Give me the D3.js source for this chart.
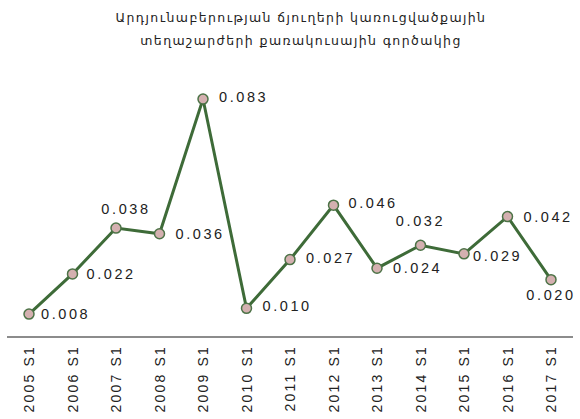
<!DOCTYPE html>
<html><head><meta charset="utf-8">
<script src="https://cdn.jsdelivr.net/npm/d3@7"></script>
<style>body{margin:0;background:#fff}svg{display:block}</style>
</head><body>
<script>
const titleLines = ["Արդյունաբերության ճյուղերի կառուցվածքային", "տեղաշարժերի քառակուսային գործակից"];
const categories = ["2005 S1","2006 S1","2007 S1","2008 S1","2009 S1","2010 S1","2011 S1","2012 S1","2013 S1","2014 S1","2015 S1","2016 S1","2017 S1"];
const values = [0.008,0.022,0.038,0.036,0.083,0.010,0.027,0.046,0.024,0.032,0.029,0.042,0.020];
const labels = ["0.008","0.022","0.038","0.036","0.083","0.010","0.027","0.046","0.024","0.032","0.029","0.042","0.020"];
// label placement: dx, dy relative to point, anchor
const labelPos = [[12,5,"start"],[14,5,"start"],[10,-14,"middle"],[16,5,"start"],[16,3,"start"],[16,3,"start"],[16,3,"start"],[15,3,"start"],[16,5,"start"],[0,-19,"middle"],[9,7,"start"],[16,5,"start"],[0,20,"middle"]];

const W=580,H=419;
const svg=d3.select("body").append("svg").attr("width",W).attr("height",H);
const x=d3.scalePoint().domain(categories).range([29,551]);
const y=d3.scaleLinear().domain([0,0.09]).range([337,79]);

svg.append("g").selectAll("text").data(titleLines).join("text")
 .attr("x",301).attr("y",(d,i)=>22+i*23).attr("text-anchor","middle")
 .attr("font-family","DejaVu Sans, Noto Sans, sans-serif").attr("font-size",12.5)
 .attr("letter-spacing",1.4).attr("fill","#222").text(d=>d);

const ax=svg.append("g").attr("transform","translate(0,337)")
 .call(d3.axisBottom(x).tickSize(0).tickPadding(8));
ax.select(".domain").remove();
ax.append("line").attr("x1",7).attr("x2",573).attr("stroke","#8c8c8c").attr("stroke-width",2);
ax.selectAll(".tick text").attr("transform","rotate(-90)").attr("text-anchor","end")
 .attr("x",-8).attr("y",0).attr("dy","0.35em")
 .attr("font-family","Liberation Sans, Arial, sans-serif").attr("font-size",14)
 .attr("letter-spacing",2.2).attr("fill","#222").text(d=>d);

svg.append("path").datum(values)
 .attr("d",d3.line().x((d,i)=>x(categories[i])).y(d=>y(d)))
 .attr("fill","none").attr("stroke","#3e6b38").attr("stroke-width",3).attr("stroke-linejoin","miter");

svg.append("g").selectAll("circle").data(values).join("circle")
 .attr("cx",(d,i)=>x(categories[i])).attr("cy",d=>y(d)).attr("r",5)
 .attr("fill","#d4b0b0").attr("stroke","#4d7347").attr("stroke-width",1.5);

svg.append("g").selectAll("text").data(values).join("text")
 .attr("x",(d,i)=>x(categories[i])+labelPos[i][0]).attr("y",(d,i)=>y(d)+labelPos[i][1])
 .attr("text-anchor",(d,i)=>labelPos[i][2])
 .attr("font-family","Liberation Sans, Arial, sans-serif").attr("font-size",14.5)
 .attr("letter-spacing",2.6).attr("fill","#222").text((d,i)=>labels[i]);
</script>
</body></html>
